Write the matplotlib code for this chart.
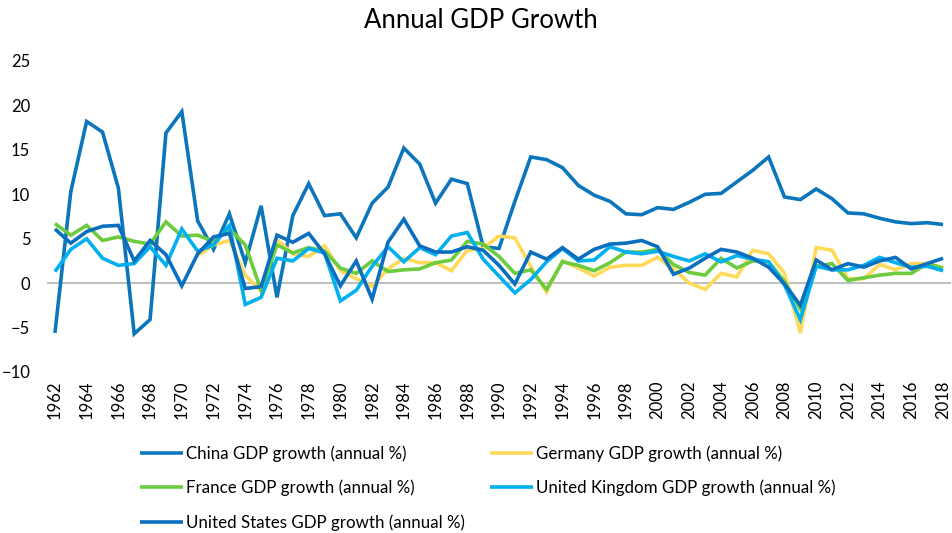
import matplotlib
matplotlib.use("Agg")
import matplotlib.pyplot as plt
import numpy as np

nan = np.nan
years = list(range(1962, 2019))

china = [-5.6, 10.3, 18.2, 17.0, 10.7, -5.7, -4.1, 16.9, 19.3, 7.0,
         3.8, 7.8, 2.3, 8.7, -1.6, 7.6, 11.2, 7.6, 7.8, 5.1,
         9.0, 10.8, 15.2, 13.4, 9.0, 11.7, 11.2, 4.1, 3.9, 9.2,
         14.2, 13.9, 13.0, 11.0, 9.9, 9.2, 7.8, 7.7, 8.5, 8.3,
         9.1, 10.0, 10.1, 11.4, 12.7, 14.2, 9.7, 9.4, 10.6, 9.5,
         7.9, 7.8, 7.3, 6.9, 6.7, 6.8, 6.6]

germany = [nan, nan, nan, nan, nan, nan, nan, nan, nan, 3.1,
           4.3, 4.8, 0.9, -0.9, 4.9, 3.3, 3.0, 4.2, 1.4, 0.5,
           -0.4, 1.6, 2.8, 2.3, 2.3, 1.4, 3.7, 3.9, 5.3, 5.1,
           1.9, -1.0, 2.5, 1.7, 0.8, 1.8, 2.0, 2.0, 2.9, 1.6,
           0.0, -0.7, 1.1, 0.7, 3.7, 3.3, 1.1, -5.6, 4.0, 3.7,
           0.5, 0.5, 2.1, 1.5, 2.2, 2.2, 1.7]

france = [6.7, 5.4, 6.5, 4.8, 5.2, 4.7, 4.4, 6.9, 5.3, 5.4,
          4.7, 6.1, 4.3, -0.8, 4.3, 3.4, 4.0, 3.6, 1.7, 1.1,
          2.5, 1.3, 1.5, 1.6, 2.3, 2.6, 4.7, 4.4, 3.0, 1.1,
          1.5, -0.7, 2.4, 2.0, 1.4, 2.3, 3.5, 3.5, 3.8, 2.1,
          1.2, 0.9, 2.8, 1.7, 2.5, 2.4, 0.2, -2.9, 1.9, 2.2,
          0.3, 0.6, 0.9, 1.1, 1.1, 2.2, 1.7]

uk = [1.3, 3.8, 5.0, 2.8, 2.0, 2.2, 4.1, 2.0, 6.1, 3.6,
      4.3, 6.5, -2.4, -1.6, 2.8, 2.5, 3.9, 3.4, -2.0, -0.8,
      1.9, 4.1, 2.4, 4.0, 3.2, 5.3, 5.7, 2.7, 0.8, -1.1,
      0.4, 2.4, 3.9, 2.5, 2.6, 4.1, 3.5, 3.3, 3.6, 3.0,
      2.5, 3.3, 2.4, 3.1, 2.7, 2.4, -0.2, -4.1, 1.9, 1.5,
      1.5, 2.0, 2.9, 2.3, 1.8, 1.9, 1.4]

usa = [6.1, 4.5, 5.8, 6.4, 6.5, 2.5, 4.8, 3.2, -0.3, 3.3,
       5.2, 5.6, -0.6, -0.4, 5.4, 4.6, 5.6, 3.3, -0.3, 2.5,
       -1.8, 4.6, 7.2, 4.2, 3.5, 3.5, 4.1, 3.7, 2.0, -0.1,
       3.5, 2.7, 4.0, 2.7, 3.8, 4.4, 4.5, 4.8, 4.1, 1.0,
       1.7, 2.8, 3.8, 3.5, 2.8, 1.8, -0.1, -2.5, 2.6, 1.5,
       2.2, 1.8, 2.5, 2.9, 1.6, 2.2, 2.8]

labels = ["China GDP growth (annual %)", "Germany GDP growth (annual %)",
          "France GDP growth (annual %)", "United Kingdom GDP growth (annual %)",
          "United States GDP growth (annual %)"]
colors = ["#0C76BC", "#FFD95A", "#6CCB3F", "#00B0F0", "#0A6FBE"]
series = [china, germany, france, uk, usa]

plt.rcParams['font.family'] = ['Lato', 'DejaVu Sans']

fig = plt.figure(figsize=(9.53, 5.33), dpi=100)
ax = fig.add_axes([47/953, (533-372)/533, (951-47)/953, 311/533])

ax.axhline(0, color="#BFBFBF", lw=1.5, zorder=1)
handles = []
for s, c, lab in zip(series, colors, labels):
    h, = ax.plot(years, s, color=c, lw=2.6, label=lab, zorder=2,
                 solid_joinstyle='miter', solid_capstyle='butt')
    handles.append(h)

ax.set_xlim(1961.5, 2018.5)
ax.set_ylim(-10, 25)
ax.set_yticks(range(-10, 30, 5))
ax.set_xticks(years[::2])
ax.set_xticklabels([str(y) for y in years[::2]], rotation=90)
for sp in ax.spines.values():
    sp.set_visible(False)
ax.tick_params(axis='both', length=0, labelsize=12, colors="#000000")
ax.tick_params(axis='y', pad=12)
ax.tick_params(axis='x', pad=6)

fig.suptitle("Annual GDP Growth", x=0.505, y=0.985, fontsize=18.5)

order = [0, 2, 4, 1, 3]
fig.legend([handles[i] for i in order], [labels[i] for i in order],
           ncol=2, loc='upper left', bbox_to_anchor=(125/953, 1 - 430/533),
           frameon=False, fontsize=12.2, handlelength=2.5, handletextpad=0.2,
           columnspacing=1.5, labelspacing=1.05)

fig.savefig("out.png", dpi=100)
